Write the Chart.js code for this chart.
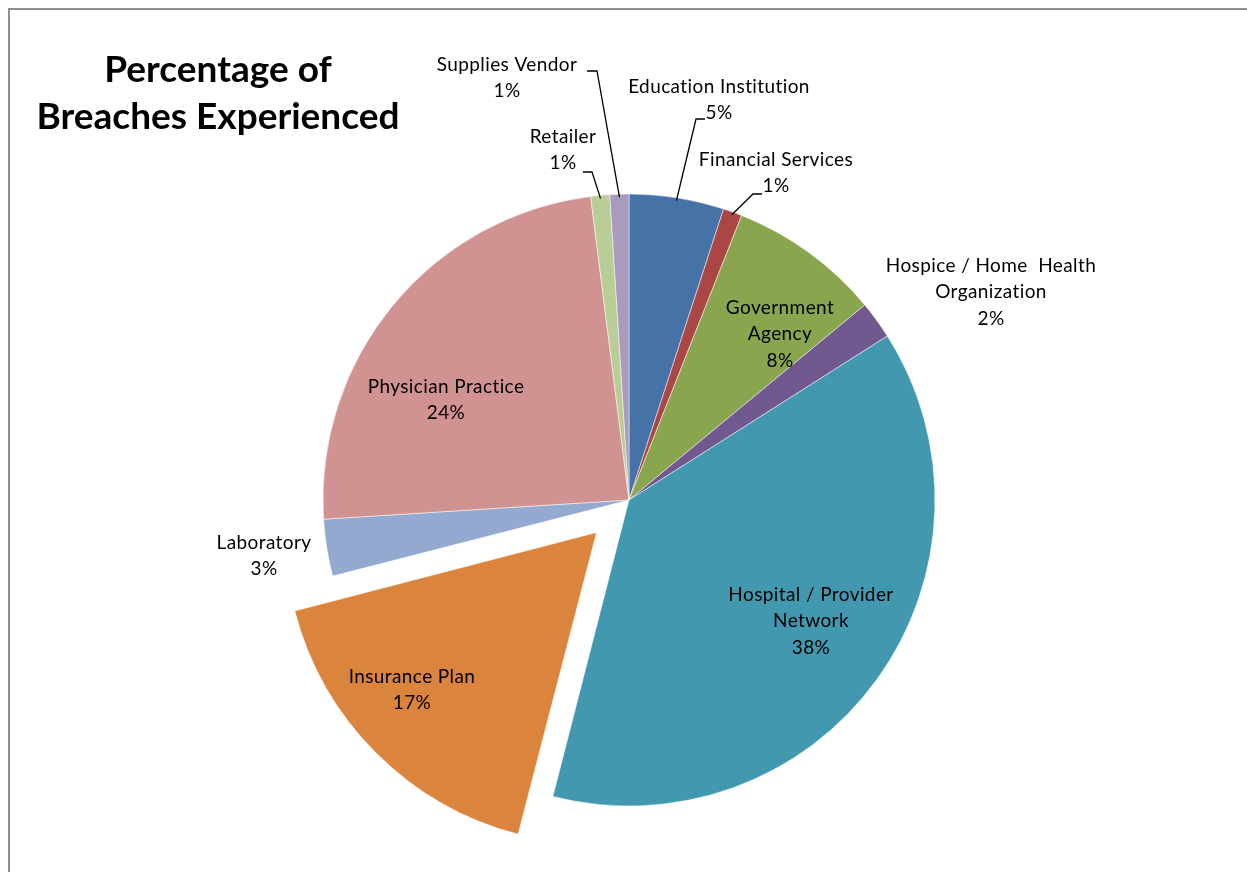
<!DOCTYPE html>
<html>
<head>
<meta charset="utf-8">
<title>Percentage of Breaches Experienced</title>
<script src="https://cdn.jsdelivr.net/npm/chart.js@4.4.0/dist/chart.umd.min.js"></script>
<style>
  html, body { margin: 0; padding: 0; background: #ffffff; overflow: hidden; }
  canvas { display: block; }
</style>
</head>
<body>
<canvas id="breaches-chart" width="1247" height="872"></canvas>
<script>
// Organization types, clockwise from 12 o'clock
const sectors = [
  'Education Institution',
  'Financial Services',
  'Government Agency',
  'Hospice / Home Health Organization',
  'Hospital / Provider Network',
  'Insurance Plan',
  'Laboratory',
  'Physician Practice',
  'Retailer',
  'Supplies Vendor'
];

// Share of breaches (%)
const breachPercent = [5, 1, 8, 2, 38, 17, 3, 24, 1, 1];

// Slice colours (Office 2007 palette)
const sliceColors = [
  '#4572a7', '#aa4643', '#89a54e', '#71588f', '#4198af',
  '#db843d', '#93a9cf', '#d19392', '#b9cd96', '#a99bbd'
];

// Pulled-out slice (Insurance Plan)
const explode = [0, 0, 0, 0, 0, 184, 0, 0, 0, 0];

const titleLines = ['Percentage of', 'Breaches Experienced'];

const FONT = 'Lato, "Open Sans", sans-serif';
const LINE_H = 26.5;

// Label text lines and block centre, relative to the pie centre.
// leader: point next to the text (ax, ay) and elbow x (bx) before running to the slice
const labelLayout = [
  { lines: ['Education Institution'], dx: 90, dy: -400, leader: { ax: 76, ay: -381, bx: 67 } },
  { lines: ['Financial Services'], dx: 147, dy: -327, leader: { ax: 133, ay: -306, bx: 124 } },
  { lines: ['Government', 'Agency'], dx: 151, dy: -166 },
  { lines: ['Hospice / Home  Health', 'Organization'], dx: 362, dy: -208 },
  { lines: ['Hospital / Provider', 'Network'], dx: 182, dy: 121 },
  { lines: ['Insurance Plan'], dx: -217, dy: 190 },
  { lines: ['Laboratory'], dx: -365, dy: 56 },
  { lines: ['Physician Practice'], dx: -183, dy: -100 },
  { lines: ['Retailer'], dx: -66, dy: -350, leader: { ax: -46, ay: -328, bx: -37 } },
  { lines: ['Supplies Vendor'], dx: -122, dy: -422, leader: { ax: -42, ay: -429, bx: -32 } }
];

// Grey frame around the chart area
const framePlugin = {
  id: 'frame',
  beforeDraw(chart) {
    const ctx = chart.ctx;
    ctx.save();
    ctx.fillStyle = '#ffffff';
    ctx.fillRect(0, 0, chart.width, chart.height);
    ctx.strokeStyle = '#8f8f8f';
    ctx.lineWidth = 2;
    ctx.strokeRect(9, 9, chart.width + 20, chart.height + 20);
    ctx.restore();
  }
};

// Two-line bold title in the upper left
const titlePlugin = {
  id: 'titleBlock',
  afterDraw(chart) {
    const ctx = chart.ctx;
    ctx.save();
    ctx.fillStyle = '#000000';
    ctx.font = 'bold 37px ' + FONT;
    ctx.textAlign = 'center';
    ctx.textBaseline = 'middle';
    ctx.fillText(titleLines[0], 218, 70);
    ctx.fillText(titleLines[1], 218, 117);
    ctx.restore();
  }
};

// Data labels: name + percentage, with leader lines for the thin slices
const labelPlugin = {
  id: 'sliceLabels',
  afterDatasetsDraw(chart) {
    const ctx = chart.ctx;
    const arcs = chart.getDatasetMeta(0).data;
    const cx = arcs[0].x;
    const cy = arcs[0].y;
    ctx.save();
    ctx.font = '19px ' + FONT;
    ctx.letterSpacing = '0.4px';
    ctx.fillStyle = '#000000';
    ctx.textAlign = 'center';
    ctx.textBaseline = 'middle';

    labelLayout.forEach((item, i) => {
      const lines = item.lines.concat([breachPercent[i] + '%']);
      const top = cy + item.dy - (lines.length - 1) * LINE_H / 2;
      lines.forEach((txt, k) => {
        ctx.fillText(txt, cx + item.dx, top + k * LINE_H);
      });

      if (item.leader) {
        const arc = arcs[i];
        const mid = (arc.startAngle + arc.endAngle) / 2;
        const r = arc.outerRadius - 3;
        ctx.beginPath();
        ctx.strokeStyle = '#000000';
        ctx.lineWidth = 1.3;
        ctx.moveTo(cx + item.leader.ax, cy + item.leader.ay);
        ctx.lineTo(cx + item.leader.bx, cy + item.leader.ay);
        ctx.lineTo(arc.x + Math.cos(mid) * r, arc.y + Math.sin(mid) * r);
        ctx.stroke();
      }
    });
    ctx.restore();
  }
};

const ctx = document.getElementById('breaches-chart').getContext('2d');

new Chart(ctx, {
  type: 'pie',
  data: {
    labels: sectors,
    datasets: [{
      data: breachPercent,
      backgroundColor: sliceColors,
      borderColor: '#ffffff',
      borderWidth: 0.5,
      offset: explode
    }]
  },
  options: {
    responsive: false,
    animation: false,
    devicePixelRatio: 1,
    radius: 306,
    layout: {
      padding: { left: 11, right: 0, top: 128, bottom: 0 }
    },
    plugins: {
      legend: { display: false },
      title: { display: false },
      tooltip: { enabled: false }
    },
    events: []
  },
  plugins: [framePlugin, labelPlugin, titlePlugin]
});
</script>
</body>
</html>
